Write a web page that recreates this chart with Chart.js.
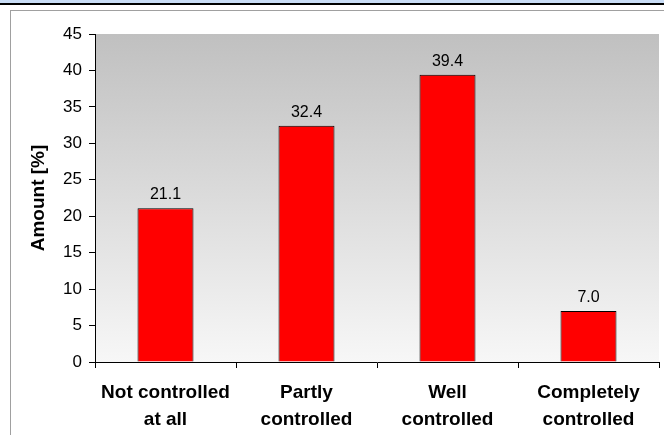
<!DOCTYPE html>
<html>
<head>
<meta charset="utf-8">
<script src="https://cdn.jsdelivr.net/npm/chart.js@4/dist/chart.umd.min.js"></script>
<style>
  html, body { margin: 0; padding: 0; background: #fff; }
  body { width: 664px; height: 435px; position: relative; overflow: hidden; }
  #strip { position: absolute; left: 0; top: 0; width: 664px; height: 3px; background: #c9ddf6; border-bottom: 2px solid #000; }
  #frame { position: absolute; left: 10px; top: 10px; width: 700px; height: 500px; border-left: 1px solid #a0a0a0; border-top: 1px solid #a0a0a0; }
  #wrap { position: absolute; left: 0; top: 0; width: 664px; height: 435px; }
</style>
</head>
<body>
<div id="strip"></div>
<div id="frame"></div>
<div id="wrap"><canvas id="c" width="664" height="435"></canvas></div>
<script>
const categories = [["Not controlled", "at all"], ["Partly", "controlled"], ["Well", "controlled"], ["Completely", "controlled"]];
const amounts = [21.1, 32.4, 39.4, 7.0];
const yMin = 0, yMax = 45, yStep = 5;
const yTitle = "Amount [%]";

const FONT = "'Liberation Sans', Arial, sans-serif";

const bgPlugin = {
  id: 'bgGradient',
  beforeDraw(chart) {
    const { ctx, chartArea: a } = chart;
    const g = ctx.createLinearGradient(0, a.top, 0, a.bottom);
    g.addColorStop(0, '#c0c0c0');
    g.addColorStop(1, '#f7f7f7');
    ctx.save();
    ctx.fillStyle = g;
    ctx.fillRect(a.left, a.top, a.right - a.left, a.bottom - a.top);
    ctx.restore();
  }
};

const labelPlugin = {
  id: 'valueLabels',
  afterDatasetsDraw(chart) {
    const { ctx } = chart;
    const meta = chart.getDatasetMeta(0);
    ctx.save();
    ctx.font = '16px ' + FONT;
    ctx.fillStyle = '#000';
    ctx.textAlign = 'center';
    ctx.textBaseline = 'alphabetic';
    meta.data.forEach((el, i) => {
      ctx.fillText(amounts[i].toFixed(1), el.x, el.y - 9);
    });
    ctx.restore();
  }
};

new Chart(document.getElementById('c'), {
  type: 'bar',
  data: {
    labels: categories,
    datasets: [{
      data: amounts,
      backgroundColor: '#ff0000',
      borderColor: '#000000',
      borderWidth: 1,
      borderSkipped: 'bottom',
      barPercentage: 0.397,
      categoryPercentage: 1.0
    }]
  },
  options: {
    responsive: false,
    animation: false,
    devicePixelRatio: 1,
    layout: { padding: { left: 0, right: 5, top: 34, bottom: 0 } },
    plugins: { legend: { display: false }, tooltip: { enabled: false } },
    scales: {
      x: {
        grid: { display: true, drawOnChartArea: false, drawTicks: true, tickLength: 6, color: '#000', offset: true },
        border: { display: true, color: '#000', width: 1 },
        ticks: { color: '#000', font: { family: FONT, size: 19, weight: 'bold', lineHeight: 1.42 }, padding: 11, maxRotation: 0, autoSkip: false },
        afterFit(s) { s.height = 73; }
      },
      y: {
        min: yMin, max: yMax,
        ticks: { stepSize: yStep, color: '#000', font: { family: FONT, size: 17 }, padding: 7 },
        grid: { display: true, drawOnChartArea: false, drawTicks: true, tickLength: 6, color: '#000' },
        border: { display: true, color: '#000', width: 1 },
        title: { display: true, text: yTitle, color: '#000', font: { family: FONT, size: 19, weight: 'bold' }, padding: { top: 27, bottom: 0 } },
        afterFit(s) { s.width = 95; }
      }
    }
  },
  plugins: [bgPlugin, labelPlugin]
});
</script>
</body>
</html>
